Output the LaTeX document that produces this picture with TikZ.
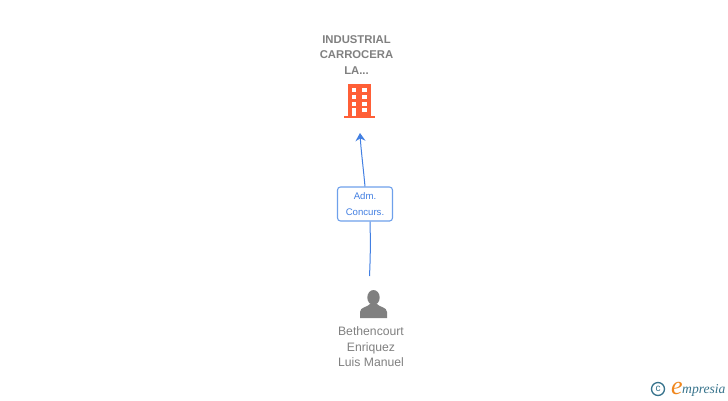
\documentclass[tikz,border=0pt]{standalone}
\usepackage{fontspec}
\setmainfont{Liberation Sans}
\newfontfamily\logofont{Liberation Serif}
\usetikzlibrary{arrows.meta}
\definecolor{labelgray}{RGB}{128,128,128}
\definecolor{linkblue}{RGB}{66,127,226}
\definecolor{boxblue}{RGB}{110,160,235}
\definecolor{towerred}{RGB}{255,95,55}
\definecolor{logoteal}{RGB}{55,115,140}
\definecolor{logoorange}{RGB}{240,135,30}
\tikzset{
	nametext/.style={text=labelgray, font=\fontsize{12.2}{15.5}\selectfont, align=center, inner sep=0pt},
	rolebox/.style={draw=boxblue, line width=1.1pt, rounded corners=3pt, fill=white, text=linkblue,
		minimum width=55pt, minimum height=34pt, inner sep=0pt, align=center,
		font=\fontsize{9.6}{15.5}\selectfont},
	linkline/.style={draw=linkblue, line width=1pt},
}
\begin{document}
\begin{tikzpicture}[x=1pt,y=-1pt]
		\useasboundingbox (0,0) rectangle (728,400);
		% company
		\node[nametext, font=\bfseries\fontsize{11.3}{15.5}\selectfont] (company) at (356.5,55) {INDUSTRIAL\\CARROCERA\\LA...};
		\fill[towerred] (348,84) rectangle (371,116);
		\fill[towerred] (343.5,116) rectangle (375,118);
		\foreach \y in {88,95,102} {
			\fill[white] (352,\y) rectangle (356,\y+4);
			\fill[white] (362,\y) rectangle (367,\y+4);
		}
		\fill[white] (352,108) rectangle (356,116);
		\fill[white] (362,108) rectangle (367,112);
		% person
		\fill[labelgray] (373.5,297.5) ellipse (6.2 and 7.5);
		\fill[labelgray] (360,318) -- (360,312) .. controls (360,307) and (368,307) .. (370,304)
			-- (377,304) .. controls (379,307) and (387,307) .. (387,312) -- (387,318) -- cycle;
		\node[nametext] (director) at (371,347) {Bethencourt\\Enriquez\\Luis Manuel};
		% connectors
		\coordinate (tailend) at (369.5,276);
		\coordinate (tipend) at (360,133);
		\node[rolebox] (role) at (365,204) {Adm.\\Concurs.};
		\draw[linkline] (tailend) .. controls (370.5,255) and (370.5,240) .. ([xshift=5pt]role.south);
		\draw[linkline, -{Stealth[length=8pt,width=10pt]}] (role.north) .. controls (363,165) and (361,150) .. (tipend);
		% logo
		\node[draw=logoteal, line width=1.3pt, circle, minimum size=13pt, inner sep=0pt, text=logoteal,
			font=\fontsize{10}{10}\selectfont] (copyright) at (658,389) {c};
		\node[anchor=base west, inner sep=0pt, text=logoorange, font=\logofont\itshape\fontsize{26}{26}\selectfont] (logoe) at (671,394) {e};
		\node[anchor=base west, inner sep=0pt, text=logoteal, font=\logofont\itshape\fontsize{13.6}{13.6}\selectfont] (logotext) at (682,393) {mpresia};
\end{tikzpicture}
\end{document}
